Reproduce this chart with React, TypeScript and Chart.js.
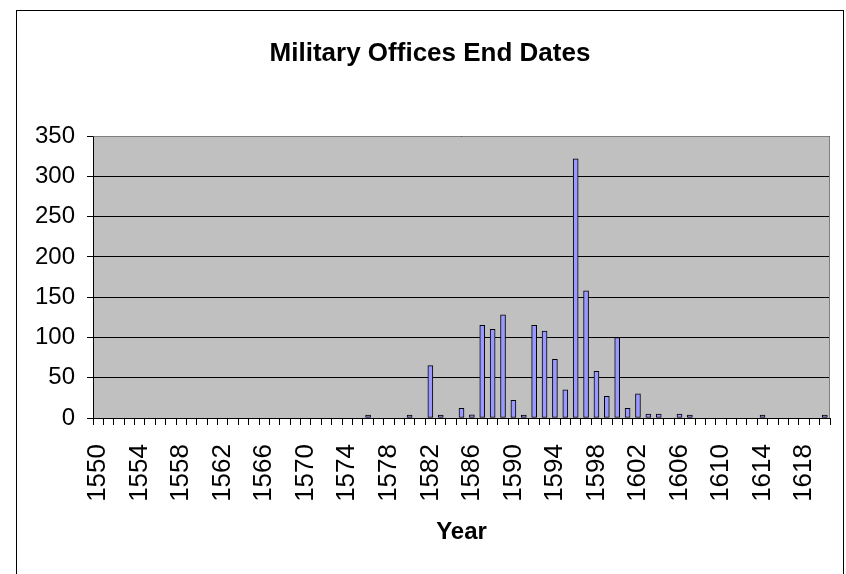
import React, { useEffect, useRef } from 'react';
import { Chart, registerables } from 'chart.js';

Chart.register(...registerables);

const years: string[] = [
  '1550','1551','1552','1553','1554','1555','1556','1557','1558','1559',
  '1560','1561','1562','1563','1564','1565','1566','1567','1568','1569',
  '1570','1571','1572','1573','1574','1575','1576','1577','1578','1579',
  '1580','1581','1582','1583','1584','1585','1586','1587','1588','1589',
  '1590','1591','1592','1593','1594','1595','1596','1597','1598','1599',
  '1600','1601','1602','1603','1604','1605','1606','1607','1608','1609',
  '1610','1611','1612','1613','1614','1615','1616','1617','1618','1619',
  '1620',
];

const endCounts: number[] = [
  0, 0, 0, 0, 0, 0, 0, 0, 0, 0,
  0, 0, 0, 0, 0, 0, 0, 0, 0, 0,
  0, 0, 0, 0, 0, 0, 1, 0, 0, 0,
  1, 0, 65, 1, 0, 12, 4, 115, 110, 128,
  22, 1, 115, 108, 73, 35, 322, 158, 58, 27,
  100, 12, 30, 5, 5, 0, 5, 1, 0, 0,
  0, 0, 0, 0, 1, 0, 0, 0, 0, 0,
  1,
];

const xTickLabels: string[] = [
  '1550','1554','1558','1562','1566','1570','1574','1578','1582','1586',
  '1590','1594','1598','1602','1606','1610','1614','1618',
];

const yTicks: number[] = [0, 50, 100, 150, 200, 250, 300, 350];

const chartTitle = 'Military Offices End Dates';
const xTitle = 'Year';

const FONT = "'Liberation Sans', Arial, sans-serif";

const framePlugin = {
  id: 'framePlugin',
  beforeDraw(chart: any) {
    const { ctx, chartArea: a } = chart;
    ctx.save();
    ctx.fillStyle = '#ffffff';
    ctx.fillRect(0, 0, chart.width, chart.height);
    ctx.strokeStyle = '#000000';
    ctx.lineWidth = 1;
    ctx.strokeRect(16.5, 10.5, 827, 700);
    ctx.fillStyle = '#C0C0C0';
    ctx.fillRect(a.left, a.top, a.right - a.left, a.bottom - a.top);
    ctx.restore();
  },
  afterDraw(chart: any) {
    const { ctx, chartArea: a } = chart;
    ctx.save();
    ctx.strokeStyle = '#808080';
    ctx.lineWidth = 1;
    ctx.beginPath();
    ctx.moveTo(Math.round(a.left) + 0.5, Math.round(a.top) + 0.5);
    ctx.lineTo(Math.round(a.right) - 0.5, Math.round(a.top) + 0.5);
    ctx.lineTo(Math.round(a.right) - 0.5, Math.round(a.bottom));
    ctx.stroke();
    ctx.restore();
  },
};

export default function App() {
  const ref = useRef<HTMLCanvasElement | null>(null);

  useEffect(() => {
    if (!ref.current) return;
    Chart.defaults.color = '#000000';
    const chart = new Chart(ref.current, {
      type: 'bar',
      data: {
        labels: years,
        datasets: [
          {
            data: endCounts.map((v) => (v === 0 ? null : v)),
            backgroundColor: '#9999FF',
            borderColor: '#000000',
            borderWidth: 1,
            borderSkipped: false,
            minBarLength: 3,
            barThickness: 5,
            categoryPercentage: 1,
          },
        ],
      },
      options: {
        responsive: false,
        animation: false,
        devicePixelRatio: 1,
        layout: { padding: { left: 30, right: 16, top: 10, bottom: 0 } },
        plugins: {
          legend: { display: false },
          tooltip: { enabled: false },
          title: {
            display: true,
            text: chartTitle,
            color: '#000000',
            font: { family: FONT, size: 26, weight: 'bold', lineHeight: 1.2 },
            padding: { top: 28, bottom: 67 },
          },
        },
        scales: {
          x: {
            offset: true,
            grid: {
              offset: true,
              drawOnChartArea: false,
              drawTicks: true,
              tickLength: 7,
              color: '#000000',
              tickColor: '#000000',
            },
            border: { display: true, color: '#000000' },
            ticks: {
              autoSkip: false,
              maxRotation: 90,
              minRotation: 90,
              padding: 19,
              color: '#000000',
              font: { family: FONT, size: 26 },
              callback: (_v: any, i: number) =>
                xTickLabels.includes(years[i]) ? years[i] : '',
            },
            title: {
              display: true,
              text: xTitle,
              color: '#000000',
              font: { family: FONT, size: 24, weight: 'bold', lineHeight: 1.2 },
              padding: { top: 0, bottom: 27 },
            },
            afterFit: (s: any) => {
              s.height = 156;
              s.paddingLeft = 0;
              s.paddingRight = 0;
            },
          },
          y: {
            min: 0,
            max: 350,
            afterBuildTicks: (s: any) => {
              s.ticks = yTicks.map((v) => ({ value: v }));
            },
            grid: {
              color: '#000000',
              tickColor: '#000000',
              tickLength: 6,
              drawTicks: true,
            },
            border: { display: true, color: '#000000' },
            ticks: {
              padding: 12,
              color: '#000000',
              font: { family: FONT, size: 24 },
            },
            afterFit: (s: any) => {
              s.width = 63;
              s.paddingTop = 0;
              s.paddingBottom = 0;
            },
          },
        },
      },
      plugins: [framePlugin],
    });
    return () => chart.destroy();
  }, []);

  return (
    <div style={{ position: 'fixed', left: 0, top: 0, width: 846, height: 574, overflow: 'hidden' }}>
      <canvas ref={ref} width={846} height={574} style={{ display: 'block' }} />
    </div>
  );
}
